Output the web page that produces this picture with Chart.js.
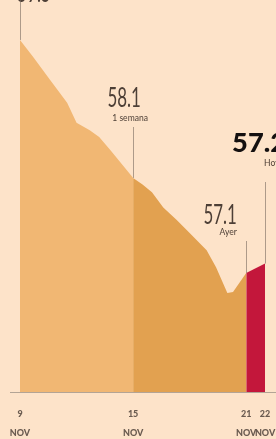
<!DOCTYPE html>
<html>
<head>
<meta charset="utf-8">
<script src="https://cdn.jsdelivr.net/npm/chart.js@4.4.1/dist/chart.umd.min.js"></script>
<style>
  html, body { margin: 0; padding: 0; background: #fde3c9; }
  #wrap { width: 276px; height: 439px; position: relative; }
</style>
</head>
<body>
<div id="wrap"><canvas id="precio"></canvas></div>
<script>
// dias de noviembre y precio (pesos por litro)
const days = [9, 9.7, 10.6, 11.5, 12.0, 12.7, 13.2, 13.8, 15, 15.5, 16.0, 16.6, 17.3, 18.0, 18.9, 19.4, 20.0, 20.3, 21, 22];
const prices = [59.55, 59.37, 59.13, 58.89, 58.68, 58.6, 58.53, 58.39, 58.1, 58.03, 57.95, 57.79, 57.66, 57.52, 57.34, 57.16, 56.89, 56.9, 57.1, 57.2];

// cortes de color: antes de 1 semana, ultima semana, hoy
const segmentStarts = [9, 15, 21];
const segmentEnds = [15, 21, 22];
const segmentColors = ['#f1b773', '#e2a150', '#c3173b'];

// etiquetas del eje
const tickDays = [9, 15, 21, 22];
const monthLabel = 'NOV';

// llamadas
const calloutDays = [9, 15, 21, 22];
const calloutValues = ['59.5', '58.1', '57.1', '57.2'];
const calloutNames = ['', '1 semana', 'Ayer', 'Hoy'];

const points = days.map((d, i) => ({x: d, y: prices[i]}));

const datasets = segmentStarts.map((s, i) => ({
    data: points.filter(p => p.x >= s && p.x <= segmentEnds[i]),
    backgroundColor: segmentColors[i],
    borderWidth: 0,
    pointRadius: 0,
    fill: 'start',
    tension: 0
}));

// texto angosto (la fuente original es condensada)
function narrowText(ctx, text, x, y, font, color, align, sx) {
    ctx.save();
    ctx.font = font;
    ctx.fillStyle = color;
    ctx.textAlign = align;
    ctx.textBaseline = 'alphabetic';
    ctx.translate(x, y);
    ctx.scale(sx, 1);
    ctx.fillText(text, 0, 0);
    ctx.restore();
}

const callouts = {
    id: 'callouts',
    afterDatasetsDraw(chart) {
        const ctx = chart.ctx;
        const xs = chart.scales.x, ys = chart.scales.y;
        const grey = '#4d3f36';
        calloutDays.forEach((d, i) => {
            const px = xs.getPixelForValue(d);
            const py = ys.getPixelForValue(prices[days.indexOf(d)]);
            let lineTop;
            if (i === 0) {
                narrowText(ctx, calloutValues[i], px + 14, 1.5, '400 26px Lato', grey, 'center', 0.65);
                lineTop = 0;
            } else if (i === 1) {
                narrowText(ctx, calloutValues[i], px - 9, 107, '400 26px Lato', grey, 'center', 0.65);
                narrowText(ctx, calloutNames[i], px - 3, 121, '400 9px Lato', grey, 'center', 0.95);
                lineTop = 127;
            } else if (i === 2) {
                narrowText(ctx, calloutValues[i], px - 26, 224, '400 26px Lato', grey, 'center', 0.65);
                narrowText(ctx, calloutNames[i], px - 18, 235, '400 9px Lato', grey, 'center', 0.95);
                lineTop = 241;
            } else {
                narrowText(ctx, calloutValues[i], px - 33, 152, '900 26px Lato', '#141010', 'left', 1.05);
                narrowText(ctx, calloutNames[i], px - 1, 166, '400 9px Lato', grey, 'left', 0.95);
                lineTop = 182;
            }
            ctx.save();
            ctx.strokeStyle = 'rgba(120,105,95,0.6)';
            ctx.lineWidth = 1;
            ctx.beginPath();
            ctx.moveTo(Math.round(px) + 0.5, lineTop);
            ctx.lineTo(Math.round(px) + 0.5, py);
            ctx.stroke();
            ctx.restore();
        });
    }
};

new Chart(document.getElementById('precio'), {
    type: 'line',
    data: {datasets: datasets},
    plugins: [callouts],
    options: {
        responsive: true,
        maintainAspectRatio: false,
        animation: false,
        layout: {padding: {left: 10, right: 0, top: 0, bottom: 0}},
        plugins: {legend: {display: false}, tooltip: {enabled: false}},
        scales: {
            x: {
                type: 'linear',
                min: 8.47,
                max: 22.58,
                grid: {display: false, drawTicks: false},
                border: {display: true, color: '#b3a495', width: 1},
                afterBuildTicks: scale => { scale.ticks = tickDays.map(v => ({value: v})); },
                afterFit: scale => { scale.height = 47; scale.paddingLeft = 0; scale.paddingRight = 0; },
                ticks: {
                    autoSkip: false,
                    maxRotation: 0,
                    padding: 13,
                    color: '#6a5b50',
                    font: {family: 'Lato', size: 9, weight: '900', lineHeight: 2.1},
                    callback: v => [String(v), monthLabel]
                }
            },
            y: {
                display: false,
                min: 55.85,
                max: 59.97
            }
        }
    }
});
</script>
</body>
</html>
